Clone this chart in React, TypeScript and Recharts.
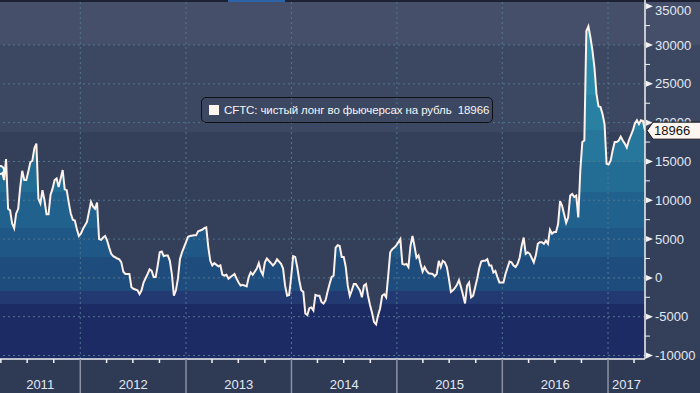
import {
  ComposedChart,
  Area,
  Line,
  XAxis,
  YAxis,
  ReferenceLine,
  Legend,
} from "recharts";

// weekly CFTC reports, counted from the first one on the chart
const START = Date.UTC(2011, 2, 29);
const WEEK = 7 * 24 * 60 * 60 * 1000;

const weeks = [
  0, 1, 2, 3, 4, 5, 6, 7, 8, 9,
  10, 11, 12, 13, 14, 15, 16, 17, 18, 19,
  20, 21, 22, 23, 24, 25, 26, 27, 28, 29,
  30, 31, 32, 33, 34, 35, 36, 37, 38, 39,
  40, 41, 43, 44, 45, 46, 47, 48, 49, 50,
  51, 52, 53, 54, 55, 56, 58, 59, 60, 61,
  62, 64, 65, 66, 68, 69, 70, 71, 73, 74,
  75, 76, 77, 78, 79, 80, 81, 82, 83, 84,
  85, 86, 87, 88, 89, 90, 92, 93, 94, 96,
  97, 98, 100, 101, 102, 103, 104, 105, 106, 108,
  109, 110, 111, 112, 113, 115, 116, 117, 118, 119,
  120, 122, 123, 124, 125, 127, 128, 129, 130, 131,
  132, 134, 135, 136, 137, 139, 140, 141, 142, 143,
  144, 145, 146, 147, 148, 149, 150, 151, 152, 153,
  154, 155, 156, 157, 158, 159, 160, 161, 162, 163,
  164, 165, 166, 167, 168, 169, 170, 171, 172, 173,
  174, 175, 176, 177, 178, 179, 180, 181, 182, 183,
  184, 185, 186, 187, 188, 189, 190, 191, 192, 193,
  194, 195, 196, 198, 199, 200, 201, 202, 203, 204,
  205, 206, 207, 208, 209, 210, 211, 212, 214, 215,
  216, 217, 218, 219, 220, 221, 222, 223, 224, 225,
  226, 227, 228, 229, 230, 231, 232, 233, 234, 235,
  236, 237, 238, 239, 240, 241, 242, 243, 244, 245,
  246, 247, 248, 249, 250, 252, 253, 254, 255, 256,
  257, 258, 259, 260, 261, 262, 264, 265, 266, 267,
  268, 269, 270, 271, 272, 273, 274, 275, 276, 277,
  278, 279, 280, 281, 282, 283, 284, 285, 286, 287,
  288, 289, 290, 291, 292, 293, 294, 295, 296, 297,
  298, 299, 300, 301, 302, 303, 304, 305, 306, 307,
  308, 309, 310, 311, 313, 314, 315, 316, 317, 318, 319,
];

// net long in ruble futures, contracts
const netLong = [
  13900, 13700, 12600, 15300, 8900, 8700, 7000, 6400, 8300, 8900,
  11700, 13800, 12600, 12600, 13700, 14900, 15100, 16700, 17300, 10200,
  9600, 11300, 10000, 8200, 8200, 10700, 11500, 12600, 12800, 11700,
  12800, 13900, 11400, 11300, 9700, 8300, 7500, 7400, 6300, 5400,
  5700, 6300, 7200, 8500, 9800, 9200, 8900, 9700, 5000, 4900,
  5200, 5400, 4800, 3900, 3100, 2800, 2500, 2400, 2000, 800,
  500, 500, -1200, -1400, -1600, -2100, -1600, -600, 500, 1100,
  900, 100, 100, 1600, 3300, 3400, 2800, 2900, 2900, 2200,
  500, -2300, -1600, -100, 2400, 3300, 4600, 5300, 5400, 5500,
  5500, 6000, 6200, 6400, 6500, 4000, 2200, 1600, 1900, 1500,
  1600, 400, 300, 400, -100, 300, 500, -100, -600, -1000,
  -900, -1100, 100, 700, 400, 1200, 1900, 900, 400, 2000,
  2500, 1900, 1600, 1900, 2400, 1800, 1200, -1000, -2300, -2200,
  100, 2800, 2700, 1400, -300, -1600, -1800, -4600, -4800, -3900,
  -3800, -4200, -2200, -2300, -2300, -3100, -3300, -2900, -1800, -800,
  100, 300, 3900, 4200, 4100, 2700, 2700, 1400, -1000, -2300,
  -1600, -800, -800, -1200, -1600, -2500, -1000, -800, -2300, -3500,
  -4500, -5700, -6000, -4800, -3900, -2300, -2100, -2500, 300, 3300,
  3700, 3900, 4200, 5000, 1800, 1700, 1800, 1400, 4100, 5400,
  4100, 2600, 2900, 1800, 800, 1400, 900, 600, 500, 200,
  500, 2200, 1400, 2200, 2000, 1400, -100, -1800, -1600, -1300,
  -900, -300, -1200, -2200, -3300, -1000, -600, -2500, -2300, -1200,
  -100, 1200, 2100, 2200, 2200, 2400, 1600, 1600, 700, 900,
  100, -600, -600, -600, 500, 2100, 2000, 1600, 1400, 1800,
  2600, 4100, 5200, 3100, 3300, 3100, 2000, 2900, 4400, 4600,
  4600, 4400, 4800, 4400, 6200, 5700, 5900, 5900, 6900, 9900,
  9300, 8200, 7100, 7800, 10600, 10800, 10400, 10600, 7800, 13800,
  17500, 17700, 31800, 32400, 31000, 29300, 27100, 23700, 22100, 22000,
  21100, 19800, 14700, 14600, 15100, 16400, 17500, 17500, 17700, 18200,
  17700, 17300, 16800, 17700, 19000, 19900, 20300, 19800, 20300, 20200, 18966,
];

const LAST_VALUE = 18966;
const SERIES_NAME = "CFTC: чистый лонг во фьючерсах на рубль";

const years = [2011, 2012, 2013, 2014, 2015, 2016, 2017];
const yTicks = [
  -10000, -7500, -5000, -2500, 0, 2500, 5000, 7500, 10000, 12500, 15000,
  17500, 20000, 22500, 25000, 27500, 30000, 32500, 35000,
];
const yGrid = [-10000, -5000, 0, 5000, 10000, 15000, 20000, 25000, 30000];
const Y_MIN = -10450;
const Y_MAX = 35800;

const FONT = '"Liberation Sans", Arial, sans-serif';
const AXIS_WHITE = "#f2f2f2";
const GRID = "#51758f";

// stepped fill, top to bottom (px from plot top)
const FILL_BANDS: [number, number, string][] = [
  [0, 60, "#2c93b1"],
  [60, 95, "#2a8aa9"],
  [95, 130, "#2880a2"],
  [130, 162, "#26779b"],
  [162, 192, "#236c94"],
  [192, 228, "#21618d"],
  [228, 257, "#1f5886"],
  [257, 291, "#1d4c7d"],
  [291, 304, "#223a71"],
  [304, 359, "#1d2b65"],
];
const PLOT_H = 359;

const data = weeks.map((w, i) => ({ date: START + w * WEEK, value: netLong[i] }));
const X_MIN = data[0].date;
const X_MAX = data[data.length - 1].date;

const yearStarts = years.slice(1).map((y) => Date.UTC(y, 0, 1));
const yearStartSet = new Set(yearStarts);
const quarterTicks = years
  .flatMap((y) => [0, 3, 6, 9].map((m) => Date.UTC(y, m, 1)))
  .filter((t) => t > X_MIN && t < X_MAX);
// each year label sits in the middle of its visible span
const yearLabels = new Map<number, string>(
  years.map((y) => {
    const lo = Math.max(Date.UTC(y, 0, 1), X_MIN);
    const hi = Math.min(Date.UTC(y + 1, 0, 1), X_MAX);
    return [(lo + hi) / 2, String(y)];
  })
);
const xTicks = [...quarterTicks, ...yearLabels.keys()];

function XTick(props: any) {
  const { x, y, payload } = props;
  const v = payload.value;
  const label = yearLabels.get(v);
  if (label) {
    return (
      <text x={x} y={y + 30} textAnchor="middle" fill="#e3e9f3" fontSize={13} fontFamily={FONT}>
        {label}
      </text>
    );
  }
  if (yearStartSet.has(v)) {
    return <line x1={x} x2={x} y1={y} y2={y + 34} stroke="#8b92a3" strokeWidth={1.5} />;
  }
  return <line x1={x} x2={x} y1={y} y2={y + 4} stroke={AXIS_WHITE} strokeWidth={1.5} />;
}

function YTick(props: any) {
  const { x, y, payload } = props;
  const v = payload.value;
  if (v === LAST_VALUE) {
    return (
      <g>
        <path
          d={`M${x + 2},${y} L${x + 8},${y - 8.5} H${x + 60} V${y + 8.5} H${x + 8} Z`}
          fill="#fdf5f0"
          stroke="#15171c"
        />
        <text x={x + 9} y={y + 4.5} fill="#111" fontSize={13} fontFamily={FONT}>
          {LAST_VALUE}
        </text>
      </g>
    );
  }
  if (v % 5000 !== 0) {
    return <line x1={x} x2={x + 5} y1={y} y2={y} stroke={AXIS_WHITE} />;
  }
  const ty = Math.max(y, 10);
  return (
    <g>
      <path d={`M${x + 1},${y - 3} L${x + 8},${y} L${x + 1},${y + 3} Z`} fill={AXIS_WHITE} />
      <text x={x + 10} y={ty + 4.5} fill="#e3e9f3" fontSize={13} fontFamily={FONT}>
        {v}
      </text>
    </g>
  );
}

function LegendBox() {
  return (
    <div
      style={{
        boxSizing: "border-box",
        width: 292,
        height: 26,
        border: "1.5px solid #0e1016",
        borderRadius: 5,
        display: "flex",
        alignItems: "center",
        paddingLeft: 7,
        fontFamily: FONT,
        fontSize: 11.5,
        letterSpacing: -0.1,
        color: "#f6f6f6",
        whiteSpace: "pre",
      }}
    >
      <span
        style={{
          display: "inline-block",
          flexShrink: 0,
          width: 10,
          height: 10,
          background: "#fff5f0",
          marginRight: 5,
        }}
      />
      <span>{`${SERIES_NAME}  ${LAST_VALUE}`}</span>
    </div>
  );
}

export default function App() {
  return (
    <div
      style={{
        position: "absolute",
        left: 0,
        top: 0,
        width: 700,
        height: 393,
        background:
          "linear-gradient(to bottom, #454f6a 0px, #454f6a 45px, #3c4862 45px, #3c4862 132px, #343f5a 132px, #343f5a 359px, #2f3a55 359px)",
      }}
    >
      <div style={{ position: "absolute", left: 0, top: 0, width: 700, height: 2, background: "#1c2233" }} />
      <div style={{ position: "absolute", left: 228, top: 0, width: 57, height: 2, background: "#2b64a8" }} />
      <ComposedChart width={700} height={393} data={data} margin={{ top: 0, right: 0, bottom: 0, left: 0 }}>
        <defs>
          <linearGradient id="netLongFill" gradientUnits="userSpaceOnUse" x1="0" y1="0" x2="0" y2={PLOT_H}>
            {FILL_BANDS.flatMap(([a, b, c]) => [
              <stop key={`${a}a`} offset={a / PLOT_H} stopColor={c} />,
              <stop key={`${a}b`} offset={b / PLOT_H} stopColor={c} />,
            ])}
          </linearGradient>
        </defs>
        <XAxis
          dataKey="date"
          type="number"
          domain={[X_MIN, X_MAX]}
          allowDataOverflow
          ticks={xTicks}
          interval={0}
          tick={<XTick />}
          tickSize={0}
          tickMargin={0}
          tickLine={false}
          height={34}
          axisLine={{ stroke: AXIS_WHITE, strokeWidth: 1.5 }}
        />
        <YAxis
          orientation="right"
          width={55}
          domain={[Y_MIN, Y_MAX]}
          allowDataOverflow
          ticks={[...yTicks, LAST_VALUE]}
          interval={0}
          tick={<YTick />}
          tickSize={0}
          tickMargin={0}
          tickLine={false}
          axisLine={{ stroke: AXIS_WHITE, strokeWidth: 1.5 }}
        />
        <Area
          dataKey="value"
          type="linear"
          baseValue="dataMin"
          fill="url(#netLongFill)"
          fillOpacity={1}
          stroke="none"
          isAnimationActive={false}
        />
        {yearStarts.map((t) => (
          <ReferenceLine key={t} x={t} stroke={GRID} strokeDasharray="2 3" />
        ))}
        {yGrid.map((v) => (
          <ReferenceLine key={v} y={v} stroke={GRID} strokeDasharray="2 3" />
        ))}
        <Line
          dataKey="value"
          type="linear"
          stroke="#fdf1ea"
          strokeWidth={2}
          dot={false}
          activeDot={false}
          isAnimationActive={false}
        />
        <Legend
          layout="horizontal"
          verticalAlign="middle"
          align="center"
          wrapperStyle={{ left: 201, top: 97, width: 292, height: 26 }}
          content={() => <LegendBox />}
        />
      </ComposedChart>
    </div>
  );
}
